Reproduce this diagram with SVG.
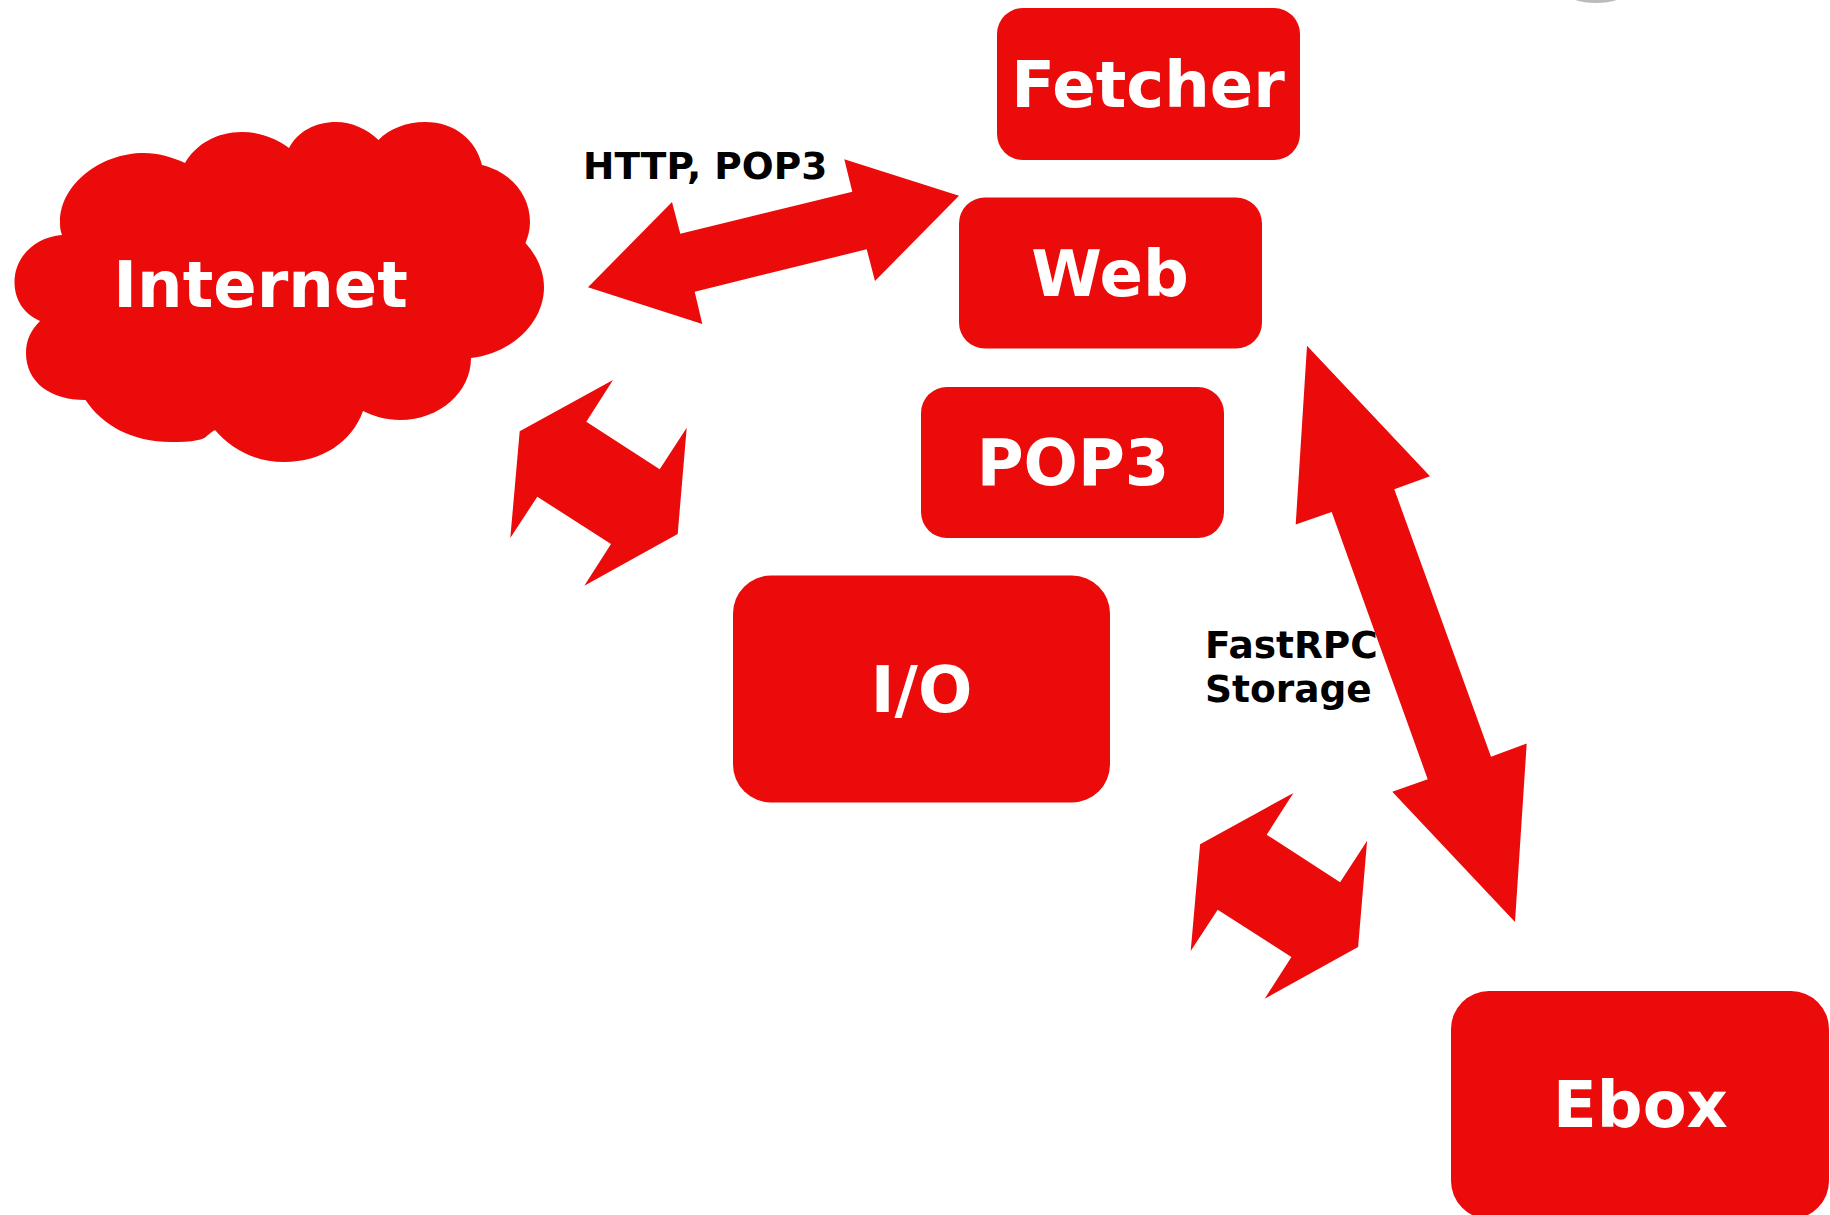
<svg xmlns="http://www.w3.org/2000/svg" width="1830" height="1215" viewBox="0 0 1830 1215">
<style>
.shape{fill:#ec0b0b}
text{font-family:"DejaVu Sans",sans-serif;font-weight:700}
.n{font-size:64px;fill:#fff;text-anchor:middle}
.l{font-size:37.5px;fill:#000}
</style>
<rect width="1830" height="1215" fill="#fff"/>
<path d="M1575 0C1586 4 1606 4 1617 0Z" fill="#bbb"/>
<g id="labels">
<text class="l" x="583" y="179">HTTP, POP3</text>
<text class="l" x="1205" y="658">FastRPC</text>
<text class="l" x="1205" y="702">Storage</text>
</g>
<g id="connectors">
<path id="c1" class="shape" d="M844.3 159.300L959 195.700L875 281L866.700 249.300L694.700 291.700L702.300 324L588 287.300L672 202L680.300 233.700L852.300 191.700Z"/>
<path id="c2" class="shape" d="M613 380L586.300 421.700L659.700 469.300L686.700 427.700L677.700 534L584.300 585.700L611 544L537.300 496.700L510.300 538L519.700 431.300Z"/>
<path id="c3" class="shape" d="M1307 345.800L1430 476.300L1394.300 489.300L1491 756.700L1526.700 743.600L1515 922L1392.300 791.800L1427.700 779.200L1331.700 511.900L1295.700 524.500Z"/>
<path id="c4" class="shape" d="M1293.400 793L1266.700 834.700L1340.100 882.300L1367.100 840.700L1358.100 947L1264.700 998.700L1291.400 957L1217.700 909.700L1190.700 951L1200.100 844.300Z"/>
</g>
<g id="internet">
<path class="shape" d="M62 235C60 230 60 226 60 222C60 184 101 153 144 153C158 153 172 157 185 163C196 144 217 132 242 132C259 132 276 138 289 148C298 131 316 122 336 122C352 122 367 129 378.500 140C389 129 406 122 425 122C455 122 476 140 482 165C511 172 530 195 530 222C530 230 528 237 525.500 243C537 256 544 271 544 287C544 323 512 353 471 358C471 392 440 420 400 420C386 420 373 416 363 411C352 442 322 462 284 462C255 462 231 449 215 430C205 436 206 439 198 440C190 442 180 442 171 442C132 442 102 425 85.500 400C50 400 26 382 26 353C26 340 31 330 40 321C24 314 14.500 300 14.500 282C14.500 257 35 237 62 235Z"/>
<text class="n" x="260.500" y="307">Internet</text>
</g>
<g id="fetcher">
<rect class="shape" x="997" y="8" width="303" height="152" rx="26"/>
<text class="n" x="1148" y="106.500">Fetcher</text>
</g>
<g id="web">
<rect class="shape" x="959" y="197.500" width="303" height="151" rx="26"/>
<text class="n" x="1110" y="296">Web</text>
</g>
<g id="pop3">
<rect class="shape" x="921" y="387" width="303" height="151" rx="26"/>
<text class="n" x="1073" y="484.500">POP3</text>
</g>
<g id="io">
<rect class="shape" x="733" y="575.500" width="377" height="227" rx="38"/>
<text class="n" x="921.500" y="711.500">I/O</text>
</g>
<g id="ebox">
<rect class="shape" x="1451" y="991" width="378" height="228" rx="38"/>
<text class="n" x="1640.500" y="1127">Ebox</text>
</g>
</svg>
